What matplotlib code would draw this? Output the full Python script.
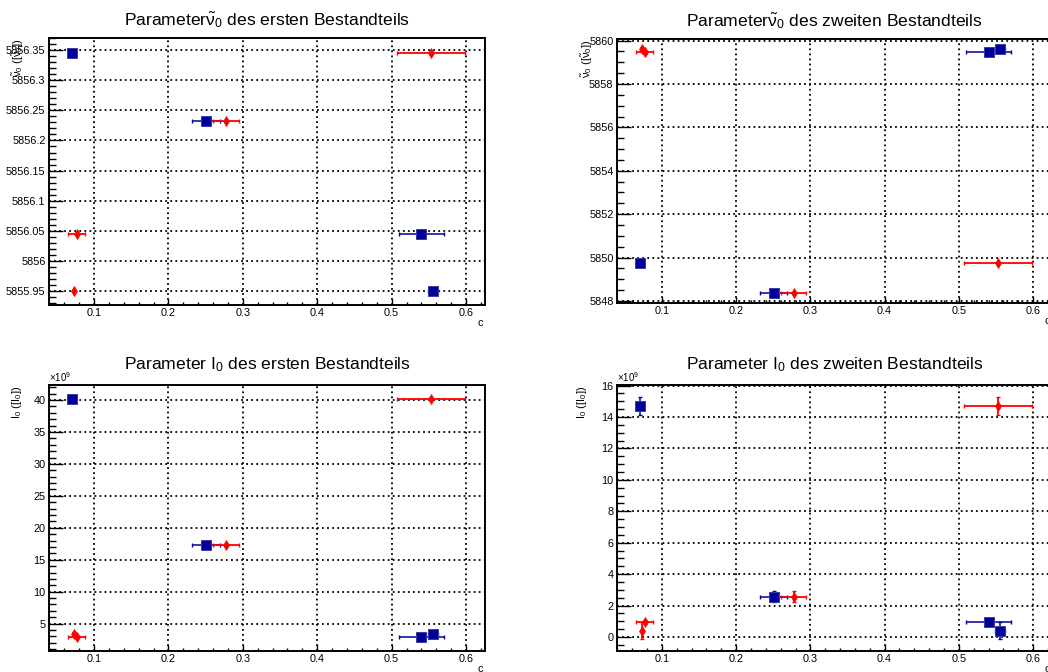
import matplotlib
matplotlib.use("Agg")
import matplotlib.pyplot as plt
from matplotlib.ticker import MultipleLocator, FuncFormatter

plt.rcParams['font.family'] = ['Liberation Sans', 'DejaVu Sans']
plt.rcParams['mathtext.fontset'] = 'custom'
plt.rcParams['mathtext.rm'] = 'Liberation Sans'
plt.rcParams['mathtext.it'] = 'Liberation Sans:italic'
plt.rcParams['mathtext.bf'] = 'Liberation Sans:bold'

# ---- data -------------------------------------------------------------
# concentration c of the blue (square) and red (diamond) measurements
c_blue = [0.071, 0.2505, 0.540, 0.5556]
c_blue_err = [0.0, 0.0185, 0.030, 0.0067]
c_red = [0.553, 0.2774, 0.0767, 0.0736]
c_red_err = [0.046, 0.017, 0.011, 0.0]

# parameter nu0 of first / second component
nu0_first = [5856.3445, 5856.2326, 5856.044, 5855.9505]
nu0_first_err = [0.0, 0.0, 0.0, 0.0]
nu0_second = [5849.76, 5848.39, 5859.45, 5859.60]
nu0_second_err = [0.0, 0.0, 0.05, 0.10]

# parameter I0 of first / second component (units of 1e9)
I0_first = [40.16, 17.32, 2.90, 3.43]
I0_first_err = [0.1, 0.15, 0.1, 0.25]
I0_second = [14.73, 2.55, 0.98, 0.40]
I0_second_err = [0.57, 0.35, 0.12, 0.55]

x_ticks = [0.1, 0.2, 0.3, 0.4, 0.5, 0.6]

titles = [r'Parameter$\tilde{\mathrm{\nu}}_0$ des ersten Bestandteils',
          r'Parameter$\tilde{\mathrm{\nu}}_0$ des zweiten Bestandteils',
          r'Parameter I$_0$ des ersten Bestandteils',
          r'Parameter I$_0$ des zweiten Bestandteils']
ylabels = [r'$\tilde{\mathrm{\nu}}_0$ ([$\tilde{\mathrm{\nu}}_0$])',
           r'$\tilde{\mathrm{\nu}}_0$ ([$\tilde{\mathrm{\nu}}_0$])',
           r'I$_0$ ([I$_0$])',
           r'I$_0$ ([I$_0$])']

BLUE = '#000099'
RED = '#ff0000'

W, H = 1048.0, 672.0
fig = plt.figure(figsize=(W / 100, H / 100), dpi=100)


def px_rect(l, t, r, b):
    return [l / W, 1 - b / H, (r - l) / W, (b - t) / H]


fmt = FuncFormatter(lambda v, p: format(round(v, 6), '.10g'))


def draw_series(ax, xs, xe, ys, ye, marker, color, ms, mec, mew, elw):
    for x, dx, y, dy in zip(xs, xe, ys, ye):
        if dx > 0:
            ax.errorbar([x], [y], xerr=[dx], fmt='none', ecolor=color,
                        elinewidth=elw, capsize=1.5, capthick=1.0, zorder=3)
        if dy > 0:
            ax.errorbar([x], [y], yerr=[dy], fmt='none', ecolor=color,
                        elinewidth=elw, capsize=1.5, capthick=1.0, zorder=3)
    ax.plot(xs, ys, linestyle='none', marker=marker, color=color, ms=ms,
            mec=mec, mew=mew, zorder=4)


def panel(rect, y, yerr, ylim, major, minor, title, ylabel, tpad, ylab_off,
          exponent=False):
    ax = fig.add_axes(rect)
    draw_series(ax, c_blue, c_blue_err, y, yerr, 's', BLUE, 6.5, '#3a3aa8', 0.7, 1.1)
    draw_series(ax, c_red, c_red_err, y, yerr, 'd', RED, 4.6, RED, 0.5, 1.3)
    ax.set_xlim(0.0395, 0.6255)
    ax.set_ylim(*ylim)
    ax.set_xticks(x_ticks)
    ax.xaxis.set_minor_locator(MultipleLocator(0.02))
    ax.yaxis.set_major_locator(MultipleLocator(major))
    ax.yaxis.set_minor_locator(MultipleLocator(minor))
    ax.xaxis.set_major_formatter(fmt)
    ax.yaxis.set_major_formatter(fmt)
    for s in ax.spines.values():
        s.set_linewidth(1.4)
    ax.tick_params(which='both', direction='in', top=False, right=False,
                   labelsize=7.8, pad=2.5, width=1.0, colors='black')
    ax.tick_params(axis='y', which='major', length=10)
    ax.tick_params(axis='y', which='minor', length=4.8)
    ax.tick_params(axis='x', which='major', length=4.5)
    ax.tick_params(axis='x', which='minor', length=2.3)
    ax.grid(True, which='major', color='black', linestyle=(0, (1.0, 1.8)),
            linewidth=1.3)
    ax.set_axisbelow(True)
    ax.set_title(title, fontsize=12.6, pad=tpad)
    ax.text(ylab_off, 1.0, ylabel, transform=ax.transAxes, rotation=90,
            ha='center', va='top', fontsize=8)
    ax.text(0.995, -0.068, 'c', transform=ax.transAxes, ha='right',
            va='center', fontsize=8)
    if exponent:
        ax.text(0.0, 1.004, r'$\times$10$^{9}$', transform=ax.transAxes,
                ha='left', va='bottom', fontsize=7)
    return ax


panel(px_rect(49, 38, 485, 305), nu0_first, nu0_first_err,
      (5855.927, 5856.37), 0.05, 0.01, titles[0], ylabels[0], 9.4, -0.071)
panel(px_rect(617, 39, 1052, 303), nu0_second, nu0_second_err,
      (5847.91, 5860.07), 2, 0.5, titles[1], ylabels[1], 9.4, -0.069)
panel(px_rect(49, 385, 485, 651), I0_first, I0_first_err,
      (0.72, 42.35), 5, 1, titles[2], ylabels[2], 11.5, -0.073, exponent=True)
panel(px_rect(617, 385, 1052, 651), I0_second, I0_second_err,
      (-0.89, 16.04), 2, 0.5, titles[3], ylabels[3], 11.5, -0.080, exponent=True)

fig.savefig('out.png', dpi=100)
